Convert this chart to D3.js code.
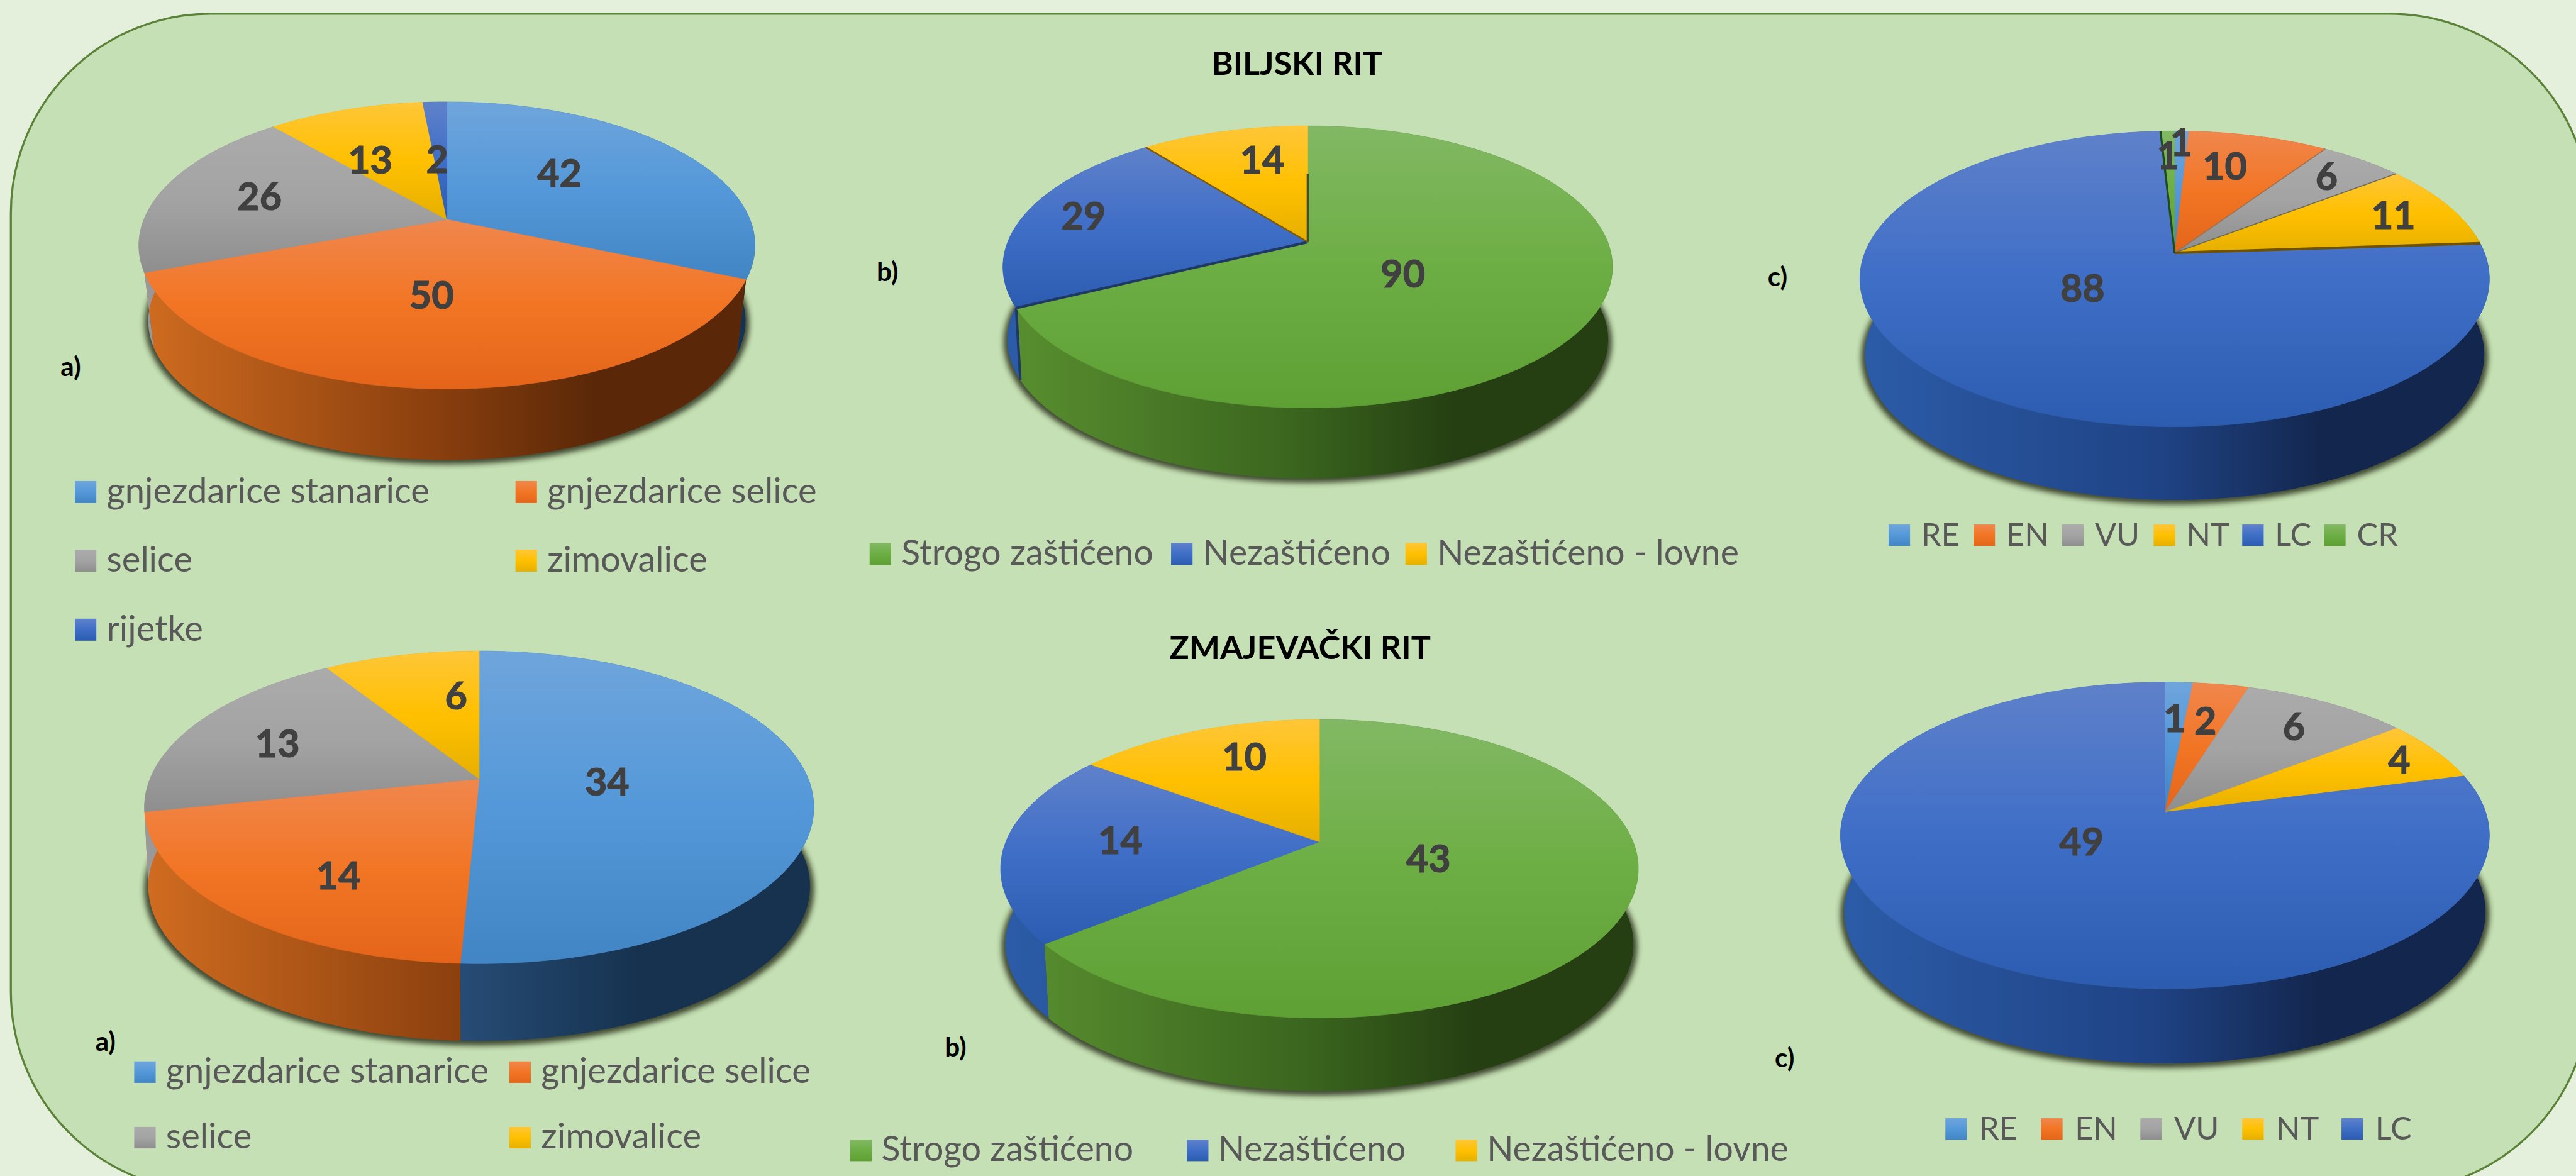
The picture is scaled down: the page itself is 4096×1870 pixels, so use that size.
<!DOCTYPE html>
<html>
<head>
<meta charset="utf-8">
<script src="https://cdn.jsdelivr.net/npm/d3@7"></script>
<style>
	html, body { margin: 0; padding: 0; background: #E5F0DC; overflow: hidden; }
	svg { display: block; }
	text { font-family: Lato, "Open Sans", sans-serif; }
</style>
</head>
<body>
<div id="map"></div>
<script>
// values
const statusCategories		= ["gnjezdarice stanarice", "gnjezdarice selice", "selice", "zimovalice", "rijetke"];
const biljskiStatus			= [42, 50, 26, 13, 2];
const zmajevackiStatus		= [34, 14, 13, 6];

const protectionCategories	= ["Strogo zaštićeno", "Nezaštićeno", "Nezaštićeno - lovne"];
const biljskiProtection		= [90, 29, 14];
const zmajevackiProtection	= [43, 14, 10];

const iucnCategories		= ["RE", "EN", "VU", "NT", "LC", "CR"];
const biljskiIucn			= [1, 10, 6, 11, 88, 1];
const zmajevackiIucn		= [1, 2, 6, 4, 49];

const titles = [
	{ text: "BILJSKI RIT", x: 2534, y: 146 },
	{ text: "ZMAJEVAČKI RIT", x: 2540, y: 1288 }
];

// top face colours, [top, middle, bottom]
const faces = {
	sky:	["#6FA5DC", "#5498D9", "#4285C4"],
	orange:	["#F0874D", "#F27524", "#E4651A"],
	grey:	["#ABABAB", "#A3A3A3", "#8E8E8E"],
	yellow:	["#FFC638", "#FFC000", "#E6B000"],
	blue:	["#5F81CA", "#3F6EC7", "#2C5CB0"],
	green:	["#82B864", "#6DAE44", "#5FA035"]
};
// outer wall colours, left to right
const walls = {
	sky:	["#33689E", "#264B74", "#16324F"],
	orange:	["#D06C20", "#8A3F0E", "#5A2808"],
	grey:	["#9A9A9A", "#6B6B6B", "#484848"],
	yellow:	["#C89600", "#8A6A00", "#5C4700"],
	blue:	["#2C5CA8", "#1F4385", "#13264D"],
	green:	["#5A9030", "#3A651E", "#253F12"]
};

const statusColors		= ["sky", "orange", "grey", "yellow", "blue"];
const protectionColors	= ["green", "blue", "yellow"];
const iucnColors		= ["sky", "orange", "grey", "yellow", "blue", "green"];

// everything below is in pixels of the 5033x2298 reference
const charts = [
	{
		id: "a1", values: biljskiStatus, categories: statusCategories, colors: statusColors,
		apex: [873, 429], left: 271, right: 1475, top: 199, bottom: 760, wallLeft: 291, wallRight: 1458, wallBottom: 899,
		labels: [[220, -91], [-30, 147], [-366, -45], [-150, -117], [-19, -118]],
		tag: { text: "a)", x: 138, y: 735 },
		swatchW: 42, swatchH: 43, legendSize: 69,
		legend: [[146, 940], [1007, 940], [146, 1074], [1007, 1074], [146, 1209]], textGap: 62
	},
	{
		id: "b1", values: biljskiProtection, categories: protectionCategories, colors: protectionColors,
		apex: [2555, 473], left: 1958, right: 3149, top: 246, bottom: 797, wallLeft: 1966, wallRight: 3140, wallBottom: 935,
		labels: [[186, 61], [-438, -51], [-89, -161]],
		tag: { text: "b)", x: 1734, y: 549 },
		swatchW: 42, swatchH: 43, legendSize: 68,
		legend: [[1699, 1061], [2288, 1061], [2746, 1061]], textGap: 62,
		edges: [
			{ at: 0, color: "#4A4A2A", width: 4, to: 0.55 },
			{ at: 1, color: "#1F3864", width: 5, to: 1, seam: true },
			{ at: 2, color: "#7A5A10", width: 3, to: 1 }
		]
	},
	{
		id: "c1", values: biljskiIucn, categories: iucnCategories, colors: iucnColors,
		apex: [4249, 494], left: 3631, right: 4861, top: 256, bottom: 834, wallLeft: 3640, wallRight: 4850, wallBottom: 977,
		labels: [[13, -216], [98, -170], [297, -150], [427, -74], [-180, 69], [-13, -190]],
		tag: { text: "c)", x: 3473, y: 559 },
		swatchW: 42, swatchH: 42, legendSize: 62,
		legend: [[3690, 1025], [3856, 1025], [4029, 1025], [4208, 1025], [4381, 1025], [4541, 1025]], textGap: 64,
		edges: [
			{ at: 2, color: "#A0704A", width: 2, to: 1 },
			{ at: 3, color: "#6A6A5A", width: 2, to: 1 },
			{ at: 4, color: "#6E5200", width: 5, to: 1 },
			{ at: 5, color: "#1E4A20", width: 4, to: 1 }
		]
	},
	{
		id: "a2", values: zmajevackiStatus, categories: statusCategories, colors: statusColors,
		apex: [936, 1522], left: 282, right: 1590, top: 1272, bottom: 1883, wallLeft: 290, wallRight: 1583, wallBottom: 2034,
		labels: [[250, 6], [-275, 189], [-394, -70], [-45, -163]],
		tag: { text: "a)", x: 206, y: 2053 },
		swatchW: 42, swatchH: 42, legendSize: 69,
		legend: [[262, 2074], [995, 2074], [262, 2202], [995, 2202]], textGap: 62
	},
	{
		id: "b2", values: zmajevackiProtection, categories: protectionCategories, colors: protectionColors,
		apex: [2578, 1645], left: 1956, right: 3202, top: 1406, bottom: 1989, wallLeft: 1966, wallRight: 3193, wallBottom: 2132,
		labels: [[213, 32], [-389, -3], [-147, -167]],
		tag: { text: "b)", x: 1867, y: 2065 },
		swatchW: 42, swatchH: 42, legendSize: 68,
		legend: [[1661, 2227], [2319, 2227], [2844, 2227]], textGap: 61
	},
	{
		id: "c2", values: zmajevackiIucn, categories: iucnCategories, colors: iucnColors,
		apex: [4230, 1587], left: 3595, right: 4863, top: 1333, bottom: 1932, wallLeft: 3603, wallRight: 4856, wallBottom: 2078,
		labels: [[19, -184], [79, -179], [252, -168], [458, -102], [-163, 57]],
		tag: { text: "c)", x: 3487, y: 2085 },
		swatchW: 42, swatchH: 42, legendSize: 62,
		legend: [[3801, 2185], [3988, 2185], [4182, 2185], [4381, 2185], [4575, 2185]], textGap: 66
	}
];

const svg = d3.select("#map").append("svg")
	.attr("width", 4096)
	.attr("height", 1870)
	.attr("viewBox", "0 0 5033 2298");

const defs = svg.append("defs");

defs.append("filter").attr("id", "shadow")
	.attr("x", "-5%").attr("y", "-5%").attr("width", "110%").attr("height", "110%")
	.append("feGaussianBlur").attr("stdDeviation", 5);

// vertical gradient for top faces and legend swatches
Object.keys(faces).forEach((name) => {
	let grad = defs.append("linearGradient").attr("id", "face-" + name)
		.attr("x1", 0).attr("y1", 0).attr("x2", 0).attr("y2", 1);
	faces[name].forEach((c, i) => {
		grad.append("stop").attr("offset", i / 2).attr("stop-color", c);
	});
});

svg.append("rect")
	.attr("width", 5033).attr("height", 2298)
	.attr("fill", "#E5F0DC");

svg.append("rect")
	.attr("x", 21).attr("y", 27)
	.attr("width", 5039).attr("height", 2301)
	.attr("rx", 390).attr("ry", 390)
	.attr("fill", "#C5E0B4")
	.attr("stroke", "#5B8239")
	.attr("stroke-width", 4);

svg.selectAll(".title")
	.data(titles)
	.enter().append("text")
	.attr("class", "title")
	.attr("x", (o) => o.x)
	.attr("y", (o) => o.y)
	.attr("text-anchor", "middle")
	.attr("font-size", 64)
	.attr("font-weight", 700)
	.attr("fill", "#000")
	.text((o) => o.text);

const pieFunc = d3.pie().sort(null).value((o) => o);
const line = d3.line();

function createPie(chart) {
	let g = svg.append("g").attr("id", chart.id);

	let ax = chart.apex[0], ay = chart.apex[1];

	// the disc is seen in perspective, so the centre is not the middle of the ellipse
	let q = (chart.bottom - ay) / (ay - chart.top);
	let k = (q - 1) / (q + 1);
	let b = (chart.bottom - ay) * (1 - k);
	let a = (chart.right - chart.left) / 2 * Math.sqrt(1 - k * k);

	let s = (chart.wallRight - chart.wallLeft) / (chart.right - chart.left);
	let drop = chart.wallBottom - ay - s * (chart.bottom - ay);

	let project = (angle, r) => {
		let u = r * Math.sin(angle), v = -r * Math.cos(angle);
		let d = 1 - k * v;
		return [ax + a * u / d, ay + b * v / d];
	};
	let lower = (angle, r) => {
		let p = project(angle, r);
		return [ax + s * (p[0] - ax), ay + drop + s * (p[1] - ay)];
	};
	let sweep = (a0, a1, fn) => {
		let n = Math.max(2, Math.ceil((a1 - a0) / 0.01));
		return d3.range(n + 1).map((i) => fn(a0 + (a1 - a0) * i / n, 1));
	};

	let arcs = pieFunc(chart.values);

	// shadow under the body
	g.append("path")
		.attr("d", line(sweep(0, 2 * Math.PI, (t) => {
			let p = lower(t, 1.012);
			return [p[0], p[1] + 4];
		})) + "Z")
		.attr("fill", "#2B331F")
		.attr("opacity", 0.85)
		.attr("filter", "url(#shadow)");

	// outer wall, gradient runs over the whole width of the pie
	arcs.forEach((o, i) => {
		let name = chart.colors[i];
		let grad = defs.append("linearGradient")
			.attr("id", "wall-" + chart.id + "-" + i)
			.attr("gradientUnits", "userSpaceOnUse")
			.attr("x1", chart.left).attr("y1", 0)
			.attr("x2", chart.right).attr("y2", 0);
		[0, 0.48, 0.74, 1].forEach((off, j) => {
			grad.append("stop")
				.attr("offset", off)
				.attr("stop-color", walls[name][Math.min(j, 2)]);
		});
	});

	g.selectAll(".wall")
		.data(arcs)
		.enter().append("path")
		.attr("class", "wall")
		.attr("d", (o) => {
			let topEdge = sweep(o.startAngle, o.endAngle, project);
			let lowEdge = sweep(o.startAngle, o.endAngle, lower).reverse();
			return line(topEdge.concat(lowEdge)) + "Z";
		})
		.attr("fill", (o, i) => "url(#wall-" + chart.id + "-" + i + ")");

	(chart.edges || []).filter((e) => e.seam).forEach((e) => {
		let angle = arcs[e.at].startAngle;
		g.append("path")
			.attr("d", line([project(angle, 1), lower(angle, 1)]))
			.attr("stroke", e.color)
			.attr("stroke-width", e.width)
			.attr("fill", "none");
	});

	// top faces
	g.selectAll(".slice")
		.data(arcs)
		.enter().append("path")
		.attr("class", "slice")
		.attr("d", (o) => line([chart.apex].concat(sweep(o.startAngle, o.endAngle, project))) + "Z")
		.attr("fill", (o, i) => "url(#face-" + chart.colors[i] + ")")
		.attr("stroke", (o, i) => "url(#face-" + chart.colors[i] + ")")
		.attr("stroke-width", 1);

	// dark seams between some of the slices
	(chart.edges || []).forEach((e) => {
		let angle = arcs[e.at].startAngle;
		g.append("path")
			.attr("d", line([chart.apex, project(angle, e.to)]))
			.attr("stroke", e.color)
			.attr("stroke-width", e.width)
			.attr("fill", "none");
	});

	// data labels sit where the author dragged them, so they hang off the apex
	g.selectAll(".value")
		.data(arcs)
		.enter().append("text")
		.attr("class", "value")
		.attr("x", (o, i) => ax + chart.labels[i][0])
		.attr("y", (o, i) => ay + chart.labels[i][1] + 27)
		.attr("text-anchor", "middle")
		.attr("font-size", 75)
		.attr("font-weight", 700)
		.attr("fill", "#404040")
		.attr("stroke", "#404040")
		.attr("stroke-width", 1.5)
		.text((o) => o.value);

	g.append("text")
		.attr("x", chart.tag.x)
		.attr("y", chart.tag.y)
		.attr("text-anchor", "middle")
		.attr("font-size", 52)
		.attr("font-weight", 700)
		.attr("fill", "#000")
		.text(chart.tag.text);

	// legend
	let item = g.selectAll(".legend-item")
		.data(chart.values)
		.enter().append("g")
		.attr("class", "legend-item")
		.attr("transform", (o, i) => "translate(" + chart.legend[i][0] + "," + chart.legend[i][1] + ")");

	item.append("rect")
		.attr("width", chart.swatchW)
		.attr("height", chart.swatchH)
		.attr("fill", (o, i) => "url(#face-" + chart.colors[i] + ")");

	item.append("text")
		.attr("x", chart.textGap)
		.attr("y", chart.swatchH)
		.attr("font-size", chart.legendSize)
		.attr("fill", "#595959")
		.text((o, i) => chart.categories[i]);
}

charts.forEach(createPie);
</script>
</body>
</html>
